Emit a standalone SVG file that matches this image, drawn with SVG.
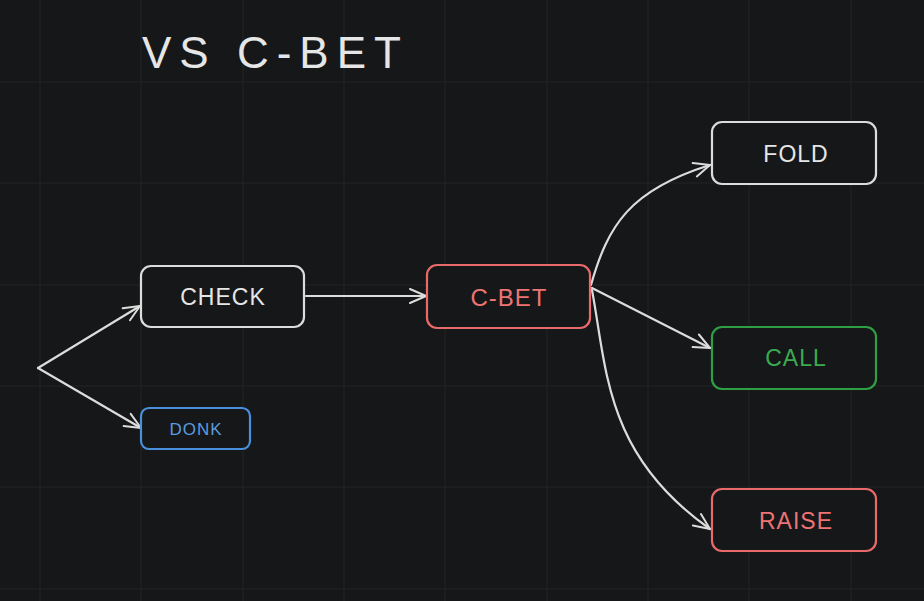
<svg xmlns="http://www.w3.org/2000/svg" width="924" height="601" viewBox="0 0 924 601">
<defs>
<style>
.bg{fill:#161718}
.grid{stroke:#222425;stroke-width:1}
.node{fill:#161718;stroke-width:2.2}
.lbl{font-family:"Liberation Sans","DejaVu Sans",sans-serif;text-anchor:middle;dominant-baseline:central;letter-spacing:1px}
.edge{fill:none;stroke:#dcdcdc;stroke-width:2.2;stroke-linecap:round}
</style>
<marker id="arr" viewBox="0 0 20 20" refX="18" refY="10" markerWidth="20" markerHeight="20" markerUnits="userSpaceOnUse" orient="auto">
<path d="M2,3 L18,10 L2,17" fill="none" stroke="#dcdcdc" stroke-width="2" stroke-linecap="round" stroke-linejoin="round"/>
</marker>
</defs>
<rect class="bg" x="0" y="0" width="924" height="601"/>
<g id="grid">
<path class="grid" d="M40,0V601M141,0V601M243,0V601M344,0V601M445,0V601M547,0V601M648,0V601M749,0V601M851,0V601M0,82H924M0,183H924M0,285H924M0,386H924M0,487H924M0,589H924"/>
</g>
<g id="title">
<text x="142" y="52" style="font-family:'Liberation Sans','DejaVu Sans',sans-serif;font-size:44px;fill:#e6e6e6;dominant-baseline:central;letter-spacing:8px">VS C-BET</text>
</g>
<g id="connectors">
<path class="edge" marker-end="url(#arr)" d="M38,368 L140,306"/>
<path class="edge" marker-end="url(#arr)" d="M38,368 L141,428"/>
<path class="edge" marker-end="url(#arr)" d="M306,296 L426,296"/>
<path class="edge" marker-end="url(#arr)" d="M591,285 C608,225 630,190 710,165"/>
<path class="edge" marker-end="url(#arr)" d="M592,288 L710,348"/>
<path class="edge" marker-end="url(#arr)" d="M592,290 C607,370 605,455 710,529"/>
</g>
<g id="check">
<rect class="node" x="141" y="266" width="163" height="61" rx="10" stroke="#dcdcdc"/>
<text class="lbl" x="223" y="297" font-size="23" fill="#e6e6e6">CHECK</text>
</g>
<g id="donk">
<rect class="node" x="141" y="408" width="109" height="41" rx="8" stroke="#4a8fdc"/>
<text class="lbl" x="196" y="429" font-size="17" fill="#5a9be0">DONK</text>
</g>
<g id="cbet">
<rect class="node" x="427" y="265" width="163" height="63" rx="10" stroke="#e86a6a"/>
<text class="lbl" x="509" y="297" font-size="24" fill="#ee7474">C-BET</text>
</g>
<g id="fold">
<rect class="node" x="712" y="122" width="164" height="62" rx="10" stroke="#dcdcdc"/>
<text class="lbl" x="796" y="154" font-size="23" fill="#e6e6e6">FOLD</text>
</g>
<g id="call">
<rect class="node" x="712" y="327" width="164" height="62" rx="10" stroke="#2f9e44"/>
<text class="lbl" x="796" y="358" font-size="23" fill="#3aab50">CALL</text>
</g>
<g id="raise">
<rect class="node" x="712" y="489" width="164" height="62" rx="10" stroke="#e86a6a"/>
<text class="lbl" x="796" y="521" font-size="23" fill="#ee7474">RAISE</text>
</g>
</svg>
